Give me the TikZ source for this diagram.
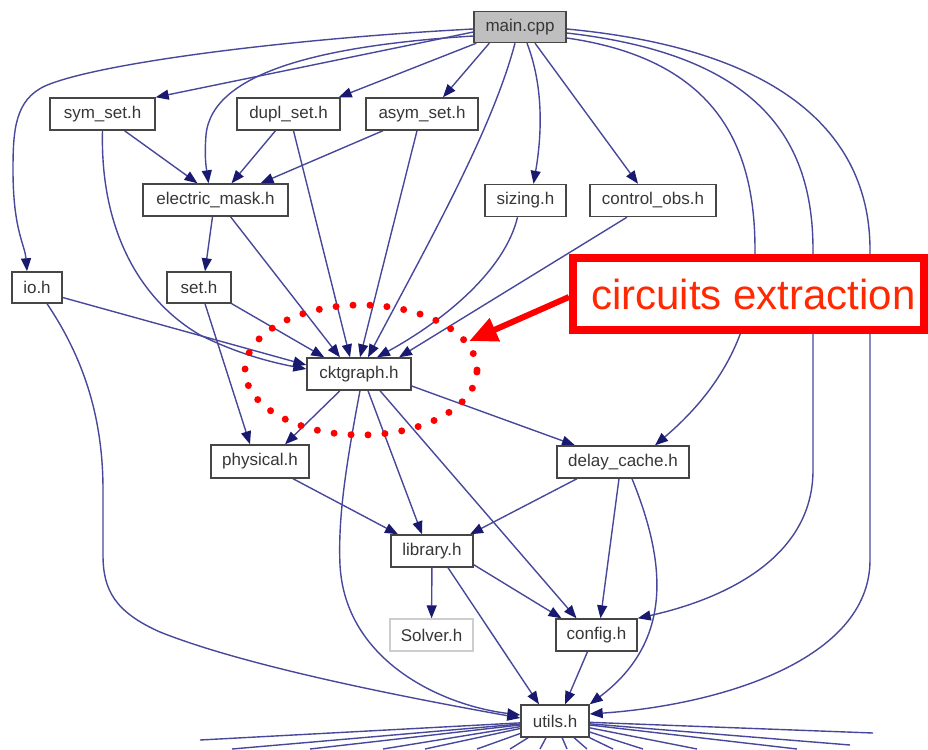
\documentclass[tikz,border=0pt]{standalone}
\usepackage{fontspec}
\setmainfont{Liberation Sans}
\usetikzlibrary{arrows.meta,calc,backgrounds,shapes.geometric}
\definecolor{edgecol}{RGB}{72,72,155}
\definecolor{tipcol}{RGB}{25,25,112}
\definecolor{boxline}{RGB}{70,70,70}
\definecolor{boxtext}{RGB}{55,55,55}
\definecolor{rootfill}{RGB}{191,191,191}
\definecolor{mutedline}{RGB}{205,205,205}
\definecolor{markred}{RGB}{255,0,0}
\definecolor{labelred}{RGB}{255,40,0}
\begin{document}
\begin{tikzpicture}[x=1pt,y=-1pt,
  file/.style={draw=boxline, line width=1.4pt, fill=white, text=boxtext,
    inner sep=0pt, minimum height=32pt, font=\fontsize{17pt}{20pt}\selectfont},
  dep/.style={draw=edgecol, line width=1.4pt,
    -{Triangle[length=13pt,width=10pt,color=tipcol]}},
  fan/.style={draw=edgecol, line width=1.4pt}]

\useasboundingbox (0,0) rectangle (928,749);

% header files
\node[file, fill=rootfill, minimum width=92pt, minimum height=31pt] (main) at (520,27) {main.cpp};
\node[file, minimum width=105pt] (sym)    at (102.5,114) {sym\_set.h};
\node[file, minimum width=103pt] (dupl)   at (288.5,114) {dupl\_set.h};
\node[file, minimum width=112pt] (asym)   at (422,114)   {asym\_set.h};
\node[file, minimum width=145pt] (emask)  at (215.5,200) {electric\_mask.h};
\node[file, minimum width=81pt]  (sizing) at (525.5,200.5) {sizing.h};
\node[file, minimum width=126pt] (ctrl)   at (653,200.5) {control\_obs.h};
\node[file, minimum width=50pt, minimum height=31pt] (io)  at (37,287.5)  {io.h};
\node[file, minimum width=64pt, minimum height=31pt] (set) at (199,287.5) {set.h};
\node[file, minimum width=104pt] (ckt)    at (359,374)   {cktgraph.h};
\node[file, minimum width=98pt, minimum height=33pt] (phys) at (260,461.5) {physical.h};
\node[file, minimum width=132pt] (dcache) at (623,462)   {delay\_cache.h};
\node[file, minimum width=82pt]  (lib)    at (432,551)   {library.h};
\node[file, draw=mutedline, minimum width=83pt] (solver) at (431.5,635) {Solver.h};
\node[file, minimum width=81pt]  (config) at (596.5,635) {config.h};
\node[file, minimum width=68pt]  (utils)  at (555,721)   {utils.h};

% ends of the edges leaving utils.h below the frame
\foreach \i/\x/\y in {1/200/740, 2/232/749, 3/310/749, 4/383/749, 5/425/749,
    6/477/749, 7/510/749, 8/540/749, 9/567/749, 10/587/749, 11/613/749,
    12/643/749, 13/697/749, 14/797/749, 15/850/745, 16/873/733}
  \coordinate (f\i) at (\x,\y);

\begin{pgfonlayer}{background}
% includes of main.cpp
\draw[dep] ($(main.west)+(0,2)$) .. controls (300,38) and (100,62) .. (45,86)
  .. controls (15,100) and (13,130) .. (13,170)
  .. controls (13,230) and (25,245) .. ($(io.north)+(-10,0)$);
\draw[dep] ($(main.west)+(0,5)$) -- (sym.north east);
\draw[dep] ($(main.west)+(0,9)$) .. controls (330,45) and (212,70) .. (206,135)
  .. controls (204,160) and (207,172) .. ($(emask.north)+(-7,0)$);
\draw[dep] ($(main.south west)+(3,0)$) -- ($(dupl.north east)+(-2,0)$);
\draw[dep] ($(main.south west)+(16,0)$) -- ($(asym.north)+(21,0)$);
\draw[dep] ($(main.south)+(-5,0)$) .. controls (492,130) and (430,240) .. ($(ckt.north)+(9,0)$);
\draw[dep] ($(main.south)+(7,0)$) .. controls (545,90) and (541,140) .. ($(sizing.north)+(8,0)$);
\draw[dep] ($(main.south)+(15,0)$) -- ($(ctrl.north)+(-15,0)$);
\draw[dep] ($(main.east)+(0,11)$) .. controls (720,60) and (755,150) .. (755,250)
  .. controls (755,330) and (720,390) .. ($(dcache.north)+(32,0)$);
\draw[dep] ($(main.east)+(0,6)$) .. controls (760,55) and (813,140) .. (813,250)
  -- (813,470) .. controls (813,560) and (720,600) .. (config.north east);
\draw[dep] ($(main.east)+(0,2)$) .. controls (790,50) and (870,140) .. (870,250)
  -- (870,560) .. controls (870,660) and (720,705) .. ($(utils.east)+(0,-7)$);

% second row
\draw[dep] ($(sym.south)+(22,0)$) -- ($(emask.north)+(-18,0)$);
\draw[dep] ($(dupl.south)+(-13,0)$) -- ($(emask.north)+(16,0)$);
\draw[dep] ($(asym.south)+(-39,0)$) -- ($(emask.north)+(45,0)$);
\draw[dep] ($(emask.south)+(-3,0)$) -- ($(set.north)+(6,0)$);

% into cktgraph.h
\draw[dep] (sym.south) .. controls (100,230) and (140,300) .. (200,335)
  .. controls (240,355) and (275,363) .. ($(ckt.west)+(0,-5)$);
\draw[dep] ($(io.east)+(0,10)$) -- ($(ckt.west)+(0,-9)$);
\draw[dep] (set.south east) -- ($(ckt.north west)+(18,0)$);
\draw[dep] ($(emask.south)+(15,0)$) -- ($(ckt.north)+(-19,0)$);
\draw[dep] ($(dupl.south)+(5,0)$) -- ($(ckt.north)+(-9,0)$);
\draw[dep] ($(asym.south)+(-5,0)$) -- ($(ckt.north)+(1,0)$);
\draw[dep] ($(sizing.south)+(-8,0)$) .. controls (505,270) and (445,320) .. ($(ckt.north)+(18,0)$);
\draw[dep] ($(ctrl.south)+(-26,0)$) -- ($(ckt.north)+(40,0)$);

% out of cktgraph.h
\draw[dep] ($(ckt.south)+(-19,0)$) -- ($(phys.north)+(25,0)$);
\draw[dep] ($(set.south)+(6,0)$) -- ($(phys.north)+(-10,0)$);
\draw[dep] ($(ckt.east)+(0,12)$) -- ($(dcache.north)+(-48,0)$);
\draw[dep] ($(ckt.south)+(9,0)$) -- ($(lib.north)+(-10,0)$);
\draw[dep] ($(ckt.south)+(21,0)$) -- ($(config.north)+(-20,0)$);
\draw[dep] ($(ckt.south)+(1,0)$) .. controls (345,470) and (338,520) .. (340,565)
  .. controls (345,660) and (440,705) .. ($(utils.west)+(0,-6)$);
\draw[dep] ($(io.south)+(10,0)$) .. controls (85,360) and (103,420) .. (103,490)
  -- (103,555) .. controls (103,590) and (115,612) .. (160,632)
  .. controls (250,668) and (420,700) .. ($(utils.west)+(0,-3)$);

% lower part
\draw[dep] ($(phys.south)+(33,0)$) -- ($(lib.north)+(-34,0)$);
\draw[dep] ($(dcache.south)+(-46,0)$) -- ($(lib.north)+(38,0)$);
\draw[dep] (lib) -- (solver);
\draw[dep] ($(lib.south east)+(0,-3)$) -- ($(config.north)+(-35,0)$);
\draw[dep] ($(lib.south)+(16,0)$) -- ($(utils.north)+(-16,0)$);
\draw[dep] ($(dcache.south)+(-4,0)$) -- ($(config.north)+(4,0)$);
\draw[dep] ($(dcache.south)+(9,0)$) .. controls (665,560) and (675,640) .. (utils.north east);
\draw[dep] ($(config.south)+(-9,0)$) -- ($(utils.north)+(10,0)$);

% fan below utils.h
\foreach \i in {1,...,16}
  \draw[fan] (utils) -- (f\i);
\end{pgfonlayer}

% highlight of cktgraph.h
\node[ellipse, minimum width=232pt, minimum height=130pt, inner sep=0pt,
  draw=markred, line width=7pt, line cap=round, dash pattern=on 0pt off 17pt]
  (ring) at (361,370) {};

% callout
\node[draw=markred, line width=8pt, fill=white, minimum width=351pt,
  minimum height=72pt, inner sep=0pt, text=labelred,
  font=\fontsize{42pt}{48pt}\selectfont] (callout) at (748.5,294)
  {\hspace*{10pt}circuits extraction};
\draw[markred, line width=6pt, -{Triangle[length=28pt,width=24pt]}]
  ($(callout.west)+(0,3)$) -- (ring.15);
\end{tikzpicture}
\end{document}
